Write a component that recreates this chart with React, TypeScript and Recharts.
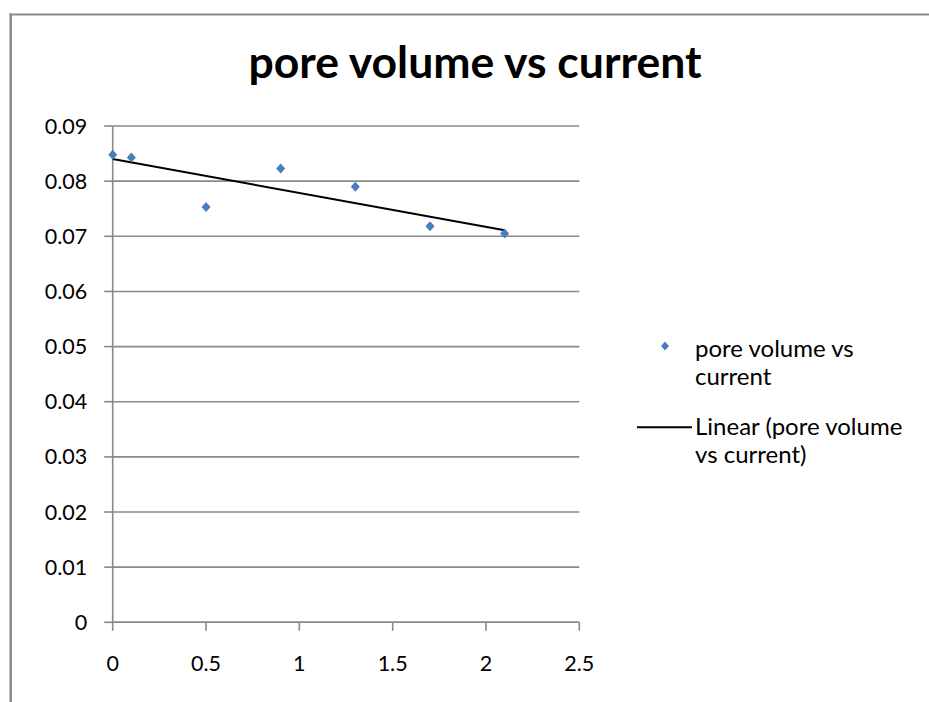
import React from 'react';
import { ScatterChart, Scatter, XAxis, YAxis, CartesianGrid, Legend } from 'recharts';

const currentValues = [0, 0.1, 0.5, 0.9, 1.3, 1.7, 2.1];
const poreVolumes = [0.0848, 0.0843, 0.0753, 0.0823, 0.079, 0.0718, 0.0705];
const trendCurrent = [0, 2.1];
const trendPore = [0.084, 0.0711];
const xTicks = [0, 0.5, 1, 1.5, 2, 2.5];
const yTicks = [0, 0.01, 0.02, 0.03, 0.04, 0.05, 0.06, 0.07, 0.08, 0.09];
const chartTitle = 'pore volume vs current';
const seriesName = 'pore volume vs current';
const trendName = 'Linear (pore volume vs current)';
const seriesLines = ['pore volume vs', 'current'];
const trendLines = ['Linear (pore volume', 'vs current)'];

const points = currentValues.map((x, i) => ({ x, y: poreVolumes[i] }));
const trend = trendCurrent.map((x, i) => ({ x, y: trendPore[i] }));

const FONT = 'Lato, "Open Sans", sans-serif';
const GRID = '#898989';
const BLUE = '#4a7ebb';

const Diamond = (props: any) => {
  const { cx, cy } = props;
  if (cx == null || cy == null) return <g />;
  return (
    <path
      d={`M${cx},${cy - 5}L${cx + 4.5},${cy}L${cx},${cy + 5}L${cx - 4.5},${cy}Z`}
      fill={BLUE}
    />
  );
};

const NoShape = () => <g />;

const textStyle: React.CSSProperties = {
  position: 'absolute',
  fontFamily: FONT,
  fontSize: 24,
  lineHeight: '28px',
  color: '#000',
  whiteSpace: 'nowrap',
};

const LegendContent = () => (
  <div style={{ position: 'relative', width: 320, height: 200 }}>
    <svg width={320} height={200} style={{ position: 'absolute', left: 0, top: 0 }}>
      <path d="M65,41.5L69,46L65,50.5L61,46Z" fill={BLUE} />
      <line x1={37} y1={127.3} x2={92} y2={127.3} stroke="#000" strokeWidth={2} />
    </svg>
    <div style={{ ...textStyle, left: 95, top: 33.7 }} title={seriesName}>
      {seriesLines.map((l, i) => (
        <div key={i}>{l}</div>
      ))}
    </div>
    <div style={{ ...textStyle, left: 95, top: 111.7 }} title={trendName}>
      {trendLines.map((l, i) => (
        <div key={i}>{l}</div>
      ))}
    </div>
  </div>
);

export default function App() {
  return (
    <div
      style={{
        position: 'absolute',
        left: 0,
        top: 0,
        width: 929,
        height: 702,
        background: '#fff',
        overflow: 'hidden',
      }}
    >
      <ScatterChart
        width={929}
        height={702}
        margin={{ top: 126, right: 349.7, bottom: 19.7, left: 12.7 }}
      >
        <CartesianGrid vertical={false} stroke={GRID} strokeWidth={1.6} />
        <XAxis
          type="number"
          dataKey="x"
          domain={[0, 2.5]}
          ticks={xTicks}
          height={60}
          axisLine={{ stroke: GRID, strokeWidth: 1.6 }}
          tickLine={{ stroke: GRID, strokeWidth: 1.6 }}
          tickSize={8.5}
          tickMargin={25}
          tick={{ fill: '#000', fontFamily: FONT, fontSize: 21.5 }}
        />
        <YAxis
          type="number"
          dataKey="y"
          domain={[0, 0.09]}
          ticks={yTicks}
          width={100}
          axisLine={{ stroke: GRID, strokeWidth: 1.6 }}
          tickLine={{ stroke: GRID, strokeWidth: 1.6 }}
          tickSize={8.5}
          tickMargin={17}
          tick={{ fill: '#000', fontFamily: FONT, fontSize: 21.5 }}
        />
        <Scatter
          name={trendName}
          data={trend}
          line={{ stroke: '#000', strokeWidth: 2 }}
          shape={NoShape}
          isAnimationActive={false}
        />
        <Scatter
          name={seriesName}
          data={points}
          shape={Diamond}
          fill={BLUE}
          isAnimationActive={false}
        />
        <Legend
          layout="vertical"
          align="center"
          verticalAlign="middle"
          content={LegendContent}
          wrapperStyle={{ left: 600, top: 300, width: 320, height: 200 }}
        />
      </ScatterChart>
      <svg
        width={929}
        height={702}
        style={{ position: 'absolute', left: 0, top: 0, pointerEvents: 'none' }}
      >
        <line x1={9.5} y1={14.5} x2={929} y2={14.5} stroke={GRID} strokeWidth={2} />
        <line x1={10.7} y1={13.5} x2={10.7} y2={702} stroke={GRID} strokeWidth={2.5} />
        <text
          x={475}
          y={78}
          textAnchor="middle"
          fontFamily={FONT}
          fontWeight="bold"
          fontSize={44.5}
          fill="#000"
        >
          {chartTitle}
        </text>
      </svg>
    </div>
  );
}
